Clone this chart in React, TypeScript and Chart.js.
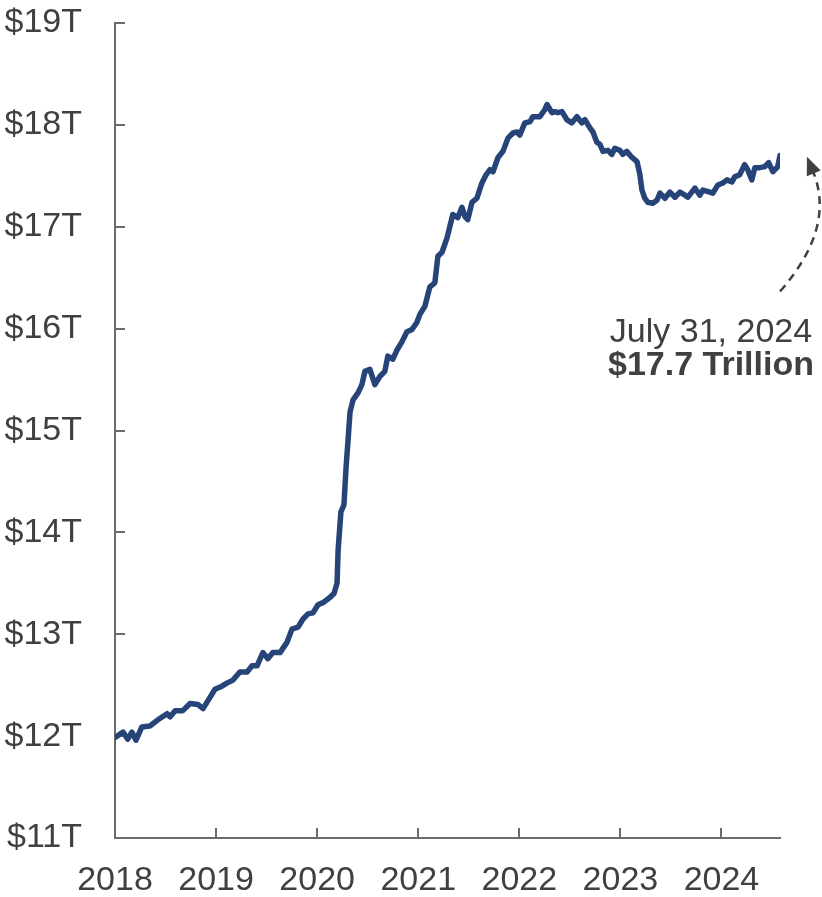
import { useEffect, useRef } from 'react';
import { Chart, registerables } from 'chart.js';

Chart.register(...registerables);

// Weekly deposit observations (trillions of dollars)
const DATES = [
  '2018-01-03', '2018-01-30', '2018-02-16', '2018-03-03', '2018-03-18', '2018-04-08', '2018-05-07',
  '2018-06-05', '2018-07-08', '2018-07-19', '2018-08-06', '2018-09-03', '2018-09-29', '2018-10-28',
  '2018-11-15', '2018-12-10', '2018-12-28',
  '2019-01-22', '2019-02-09', '2019-03-03', '2019-03-28', '2019-04-23', '2019-05-11', '2019-05-29',
  '2019-06-19', '2019-07-07', '2019-07-25', '2019-08-20', '2019-09-14', '2019-10-02', '2019-10-24',
  '2019-11-11', '2019-11-29', '2019-12-17',
  '2020-01-04', '2020-01-22', '2020-02-16', '2020-03-02', '2020-03-13', '2020-03-17', '2020-03-27',
  '2020-04-07', '2020-04-15', '2020-04-22', '2020-04-29', '2020-05-10', '2020-05-28', '2020-06-11',
  '2020-06-22', '2020-07-10', '2020-07-28', '2020-08-15', '2020-09-02', '2020-09-13', '2020-10-01',
  '2020-10-16', '2020-11-03', '2020-11-21', '2020-12-09', '2020-12-27',
  '2021-01-07', '2021-01-25', '2021-02-12', '2021-03-02', '2021-03-13', '2021-03-28', '2021-04-15',
  '2021-04-25', '2021-05-06', '2021-05-24', '2021-06-08', '2021-06-19', '2021-06-29', '2021-07-14',
  '2021-08-01', '2021-08-19', '2021-09-03', '2021-09-17', '2021-09-28', '2021-10-16', '2021-11-03',
  '2021-11-21', '2021-12-09', '2021-12-24',
  '2022-01-03', '2022-01-21', '2022-02-08', '2022-02-19', '2022-03-16', '2022-04-03', '2022-04-11',
  '2022-04-29', '2022-05-09', '2022-05-20', '2022-06-04', '2022-06-22', '2022-07-10', '2022-07-28',
  '2022-08-15', '2022-08-26', '2022-09-13', '2022-09-24', '2022-10-08', '2022-10-19', '2022-10-30',
  '2022-11-17', '2022-12-01', '2022-12-12', '2022-12-30',
  '2023-01-10', '2023-01-24', '2023-02-12', '2023-03-02', '2023-03-12', '2023-03-20', '2023-03-30',
  '2023-04-10', '2023-04-28', '2023-05-13', '2023-05-24', '2023-06-11', '2023-06-29', '2023-07-17',
  '2023-08-04', '2023-08-22', '2023-09-02', '2023-09-27', '2023-10-15', '2023-10-26', '2023-11-20',
  '2023-12-01', '2023-12-19',
  '2024-01-06', '2024-01-21', '2024-02-08', '2024-02-18', '2024-03-07', '2024-03-25', '2024-04-05',
  '2024-04-20', '2024-05-01', '2024-05-19', '2024-06-06', '2024-06-20', '2024-07-05', '2024-07-23',
  '2024-07-31',
];

const DEPOSITS = [
  11.99, 12.04, 11.97, 12.04, 11.96, 12.09, 12.10,
  12.16, 12.22, 12.19, 12.25, 12.25, 12.32, 12.31,
  12.27, 12.38, 12.46,
  12.49, 12.52, 12.55, 12.63, 12.63, 12.69, 12.69,
  12.82, 12.76, 12.82, 12.82, 12.92, 13.05, 13.07,
  13.15, 13.20, 13.21,
  13.29, 13.31, 13.36, 13.40, 13.50, 13.83, 14.20,
  14.27, 14.65, 14.91, 15.18, 15.30, 15.37, 15.45,
  15.58, 15.60, 15.45, 15.53, 15.58, 15.73, 15.70,
  15.79, 15.87, 15.97, 15.99, 16.06,
  16.14, 16.22, 16.41, 16.45, 16.71, 16.75, 16.89,
  17.00, 17.12, 17.09, 17.19, 17.10, 17.07, 17.24,
  17.28, 17.43, 17.51, 17.56, 17.54, 17.68, 17.74,
  17.87, 17.92, 17.93,
  17.90, 18.02, 18.03, 18.08, 18.08, 18.15, 18.20,
  18.12, 18.13, 18.12, 18.13, 18.05, 18.02, 18.08,
  18.02, 18.05, 17.97, 17.93, 17.83, 17.81, 17.74,
  17.75, 17.71, 17.77, 17.75,
  17.71, 17.74, 17.68, 17.64, 17.52, 17.36, 17.28,
  17.24, 17.23, 17.26, 17.33, 17.28, 17.34, 17.29,
  17.34, 17.31, 17.29, 17.38, 17.31, 17.36, 17.34,
  17.33, 17.41,
  17.43, 17.46, 17.44, 17.49, 17.51, 17.61, 17.56,
  17.46, 17.58, 17.58, 17.59, 17.63, 17.54, 17.59,
  17.70,
];

const YEAR_TICKS = [2018, 2019, 2020, 2021, 2022, 2023, 2024];
const VALUE_TICKS = [11, 12, 13, 14, 15, 16, 17, 18, 19];
const CALLOUT_DATE = 'July 31, 2024';
const CALLOUT_VALUE = '$17.7 Trillion';

const FONT_FAMILY = "Arial, 'Liberation Sans', sans-serif";
const FONT_SIZE = 34;
const TEXT_COLOR = '#404040';
const AXIS_COLOR = '#6b6b6b';
const LINE_COLOR = '#264478';

function toDecimalYear(iso: string): number {
  const [y, m, d] = iso.split('-').map(Number);
  const start = Date.UTC(y, 0, 1);
  const end = Date.UTC(y + 1, 0, 1);
  return y + (Date.UTC(y, m - 1, d) - start) / (end - start);
}

// Short tick marks pointing into the plot area
const inwardTicks = {
  id: 'inwardTicks',
  beforeDatasetsDraw(chart: any) {
    const { ctx, chartArea, scales } = chart;
    ctx.save();
    ctx.strokeStyle = AXIS_COLOR;
    ctx.lineWidth = 2;
    ctx.beginPath();
    for (const v of VALUE_TICKS) {
      const y = Math.round(scales.y.getPixelForValue(v));
      ctx.moveTo(chartArea.left, y);
      ctx.lineTo(chartArea.left + 10, y);
    }
    for (const v of YEAR_TICKS) {
      const x = Math.round(scales.x.getPixelForValue(v));
      ctx.moveTo(x, chartArea.bottom);
      ctx.lineTo(x, chartArea.bottom - 10);
    }
    ctx.stroke();
    ctx.restore();
  },
};

// Callout for the latest observation: dashed curved arrow plus two-line label
const latestCallout = {
  id: 'latestCallout',
  afterDatasetsDraw(chart: any) {
    const { ctx } = chart;
    const meta = chart.getDatasetMeta(0);
    const last = meta.data[meta.data.length - 1];
    if (!last) return;
    const lx = last.x;
    const ly = last.y;

    const p0 = { x: lx, y: ly + 136 };
    const c = { x: lx + 56, y: ly + 72 };
    const p2 = { x: lx + 33, y: ly + 16 };

    ctx.save();
    ctx.strokeStyle = TEXT_COLOR;
    ctx.fillStyle = TEXT_COLOR;
    ctx.lineWidth = 2.5;
    ctx.setLineDash([8, 6]);
    ctx.beginPath();
    ctx.moveTo(p0.x, p0.y);
    ctx.quadraticCurveTo(c.x, c.y, p2.x, p2.y);
    ctx.stroke();
    ctx.setLineDash([]);

    const dx = p2.x - c.x;
    const dy = p2.y - c.y;
    const len = Math.hypot(dx, dy);
    const ux = dx / len;
    const uy = dy / len;
    const tip = { x: p2.x + ux * 16, y: p2.y + uy * 16 };
    const baseX = p2.x - ux * 2;
    const baseY = p2.y - uy * 2;
    const half = 7.5;
    ctx.beginPath();
    ctx.moveTo(tip.x, tip.y);
    ctx.lineTo(baseX - uy * half, baseY + ux * half);
    ctx.lineTo(baseX + uy * half, baseY - ux * half);
    ctx.closePath();
    ctx.fill();

    ctx.textAlign = 'center';
    ctx.textBaseline = 'alphabetic';
    ctx.font = `${FONT_SIZE}px ${FONT_FAMILY}`;
    ctx.fillText(CALLOUT_DATE, lx - 69, ly + 187);
    ctx.font = `bold ${FONT_SIZE}px ${FONT_FAMILY}`;
    ctx.fillText(CALLOUT_VALUE, lx - 69, ly + 220);
    ctx.restore();
  },
};

export default function App() {
  const canvasRef = useRef<HTMLCanvasElement | null>(null);

  useEffect(() => {
    document.body.style.margin = '0';
    const canvas = canvasRef.current;
    if (!canvas) return;

    const points = DATES.map((d, i) => ({ x: toDecimalYear(d), y: DEPOSITS[i] }));

    const chart = new Chart(canvas, {
      type: 'line',
      data: {
        datasets: [
          {
            data: points,
            borderColor: LINE_COLOR,
            borderWidth: 5.5,
            borderJoinStyle: 'round',
            borderCapStyle: 'round',
            pointRadius: 0,
            tension: 0,
            fill: false,
          },
        ],
      },
      options: {
        animation: false,
        responsive: true,
        maintainAspectRatio: false,
        layout: { padding: { left: 0, right: 42, top: 23, bottom: 0 } },
        plugins: {
          legend: { display: false },
          tooltip: { enabled: false },
        },
        scales: {
          x: {
            type: 'linear',
            min: 2018,
            max: toDecimalYear(DATES[DATES.length - 1]),
            afterBuildTicks: (scale: any) => {
              scale.ticks = YEAR_TICKS.map((value) => ({ value }));
            },
            afterFit: (scale: any) => {
              scale.height = 59;
              scale.paddingLeft = 0;
              scale.paddingRight = 0;
            },
            grid: { display: true, drawOnChartArea: false, drawTicks: false },
            border: { display: true, color: AXIS_COLOR, width: 2 },
            ticks: {
              autoSkip: false,
              maxRotation: 0,
              padding: 22,
              color: TEXT_COLOR,
              font: { family: FONT_FAMILY, size: FONT_SIZE },
              callback: (v: any) => String(v),
            },
          },
          y: {
            type: 'linear',
            min: 11,
            max: 19,
            afterBuildTicks: (scale: any) => {
              scale.ticks = VALUE_TICKS.map((value) => ({ value }));
            },
            afterFit: (scale: any) => {
              scale.width = 115;
              scale.paddingTop = 0;
              scale.paddingBottom = 0;
            },
            grid: { display: true, drawOnChartArea: false, drawTicks: false },
            border: { display: true, color: AXIS_COLOR, width: 2 },
            ticks: {
              padding: 33,
              color: TEXT_COLOR,
              font: { family: FONT_FAMILY, size: FONT_SIZE },
              callback: (v: any) => `$${v}T`,
            },
          },
        },
      },
      plugins: [inwardTicks, latestCallout],
    });

    return () => chart.destroy();
  }, []);

  return (
    <div style={{ position: 'relative', width: 822, height: 897 }}>
      <canvas ref={canvasRef} />
    </div>
  );
}
